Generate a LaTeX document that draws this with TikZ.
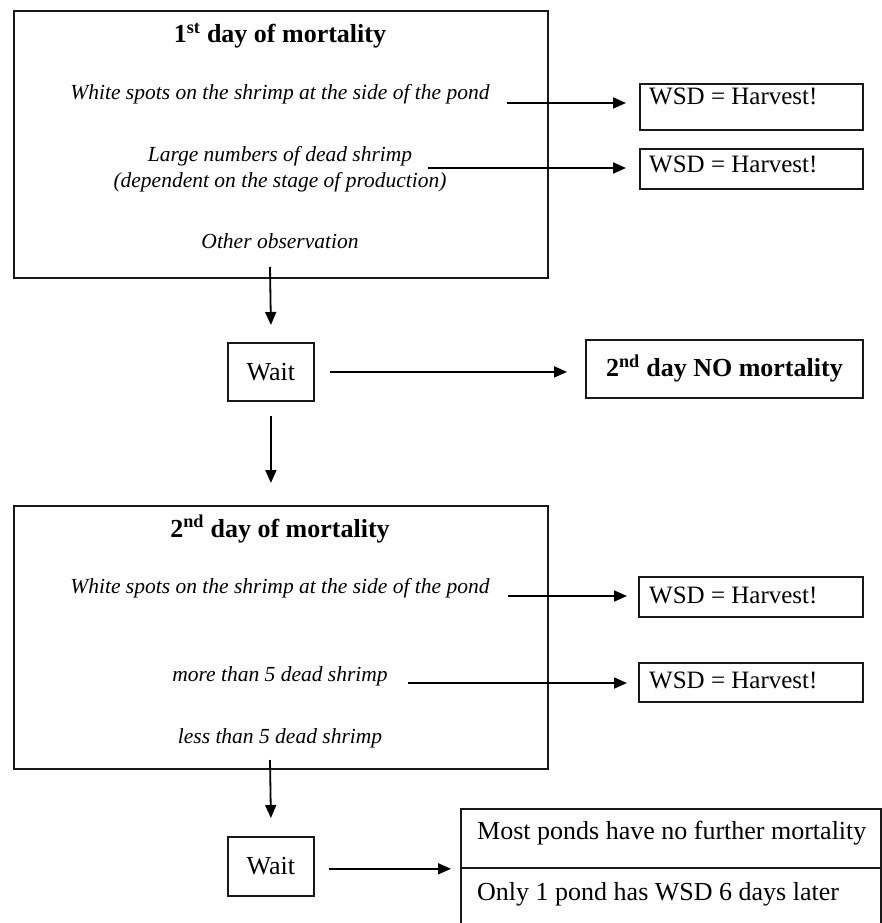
\documentclass[tikz,border=0pt]{standalone}
\usepackage{fontspec}
\setmainfont{Liberation Serif}
\usetikzlibrary{arrows.meta}
\begin{document}
\begin{tikzpicture}[x=1pt,y=-1pt,
  frame/.style={draw=black!90, line width=1.8pt, inner sep=0pt, anchor=north west},
  ital/.style={font=\fontsize{21.5}{26}\selectfont\itshape, anchor=base, inner sep=0pt},
  ttl/.style={font=\fontsize{26}{30}\selectfont\bfseries, anchor=base, inner sep=0pt},
  lbl/.style={font=\fontsize{25}{30}\selectfont, anchor=base west, inner sep=0pt},
  big/.style={font=\fontsize{26}{30}\selectfont},
  arr/.style={-{Triangle[length=13pt,width=11pt]}, line width=1.8pt},
]
\useasboundingbox (0,0) rectangle (882,923);

% ---------- first day ----------
\node[frame, minimum width=534pt, minimum height=267pt] (day1) at (13,10) {};
\node[ttl] (t1) at (280,43) {1\textsuperscript{st} day of mortality};
\node[ital] (w1) at (280,100) {White spots on the shrimp at the side of the pond};
\node[ital] (l1) at (280,161) {Large numbers of dead shrimp};
\node[ital] (p1) at (280,187) {(dependent on the stage of production)};
\node[ital] (o1) at (280,248) {Other observation};

\node[frame, minimum width=223pt, minimum height=46pt] (hA) at (639,83) {};
\node[lbl] (hAt) at (649,105) {WSD = Harvest!};
\node[frame, minimum width=223pt, minimum height=40pt] (hB) at (639,148) {};
\node[lbl] (hBt) at (649,172) {WSD = Harvest!};

\coordinate (a1) at (507,103);
\coordinate (a2) at (428,168);
\draw[arr] (a1) -- ([xshift=-13pt]a1 -| hA.west);
\draw[arr] (a2) -- ([xshift=-13pt]a2 -| hB.west);

% ---------- wait 1 ----------
\node[frame, big, minimum width=86pt, minimum height=58pt] (wait1) at (227,342) {Wait};
\node[frame, font=\fontsize{26}{30}\selectfont\bfseries, minimum width=277pt, minimum height=58pt] (nom) at (585,339) {2\textsuperscript{nd} day NO mortality};

\coordinate (d1) at (270,267);
\draw[arr] (d1) -- ([yshift=17pt]wait1.north);
\draw[arr] ([xshift=15pt]wait1.east) -- ([xshift=-18pt]wait1.east -| nom.west);

% ---------- second day ----------
\node[frame, minimum width=534pt, minimum height=263pt] (day2) at (13,505) {};
\node[ttl] (t2) at (280,537) {2\textsuperscript{nd} day of mortality};
\node[ital] (w2) at (280,593) {White spots on the shrimp at the side of the pond};
\node[ital] (m2) at (280,681) {more than 5 dead shrimp};
\node[ital] (s2) at (280,743) {less than 5 dead shrimp};

\draw[arr] ([yshift=-14pt]wait1.south) -- ([yshift=22pt]wait1.south |- day2.north);

\node[frame, minimum width=224pt, minimum height=40pt] (hC) at (638,576) {};
\node[lbl] (hCt) at (649,603) {WSD = Harvest!};
\node[frame, minimum width=224pt, minimum height=39pt] (hD) at (638,662) {};
\node[lbl] (hDt) at (649,688) {WSD = Harvest!};

\coordinate (a3) at (508,596);
\coordinate (a4) at (408,683);
\draw[arr] (a3) -- ([xshift=-11pt]a3 -| hC.west);
\draw[arr] (a4) -- ([xshift=-11pt]a4 -| hD.west);

% ---------- wait 2 ----------
\node[frame, big, minimum width=86pt, minimum height=59pt] (wait2) at (227,836) {Wait};
\coordinate (d2) at (270,760);
\draw[arr] (d2) -- ([yshift=18pt]wait2.north);

\node[frame, minimum width=420pt, minimum height=59pt] (tabA) at (460,808) {};
\node[frame, minimum width=420pt, minimum height=70pt] (tabB) at (460,867) {};
\node[lbl, font=\fontsize{26}{30}\selectfont] (tAt) at (477,839) {Most ponds have no further mortality};
\node[lbl, font=\fontsize{26}{30}\selectfont] (tBt) at (477,900) {Only 1 pond has WSD 6 days later};

\draw[arr] ([xshift=14pt]wait2.east |- tabA.south west) -- ([xshift=-9pt]tabA.south west);
\end{tikzpicture}
\end{document}
